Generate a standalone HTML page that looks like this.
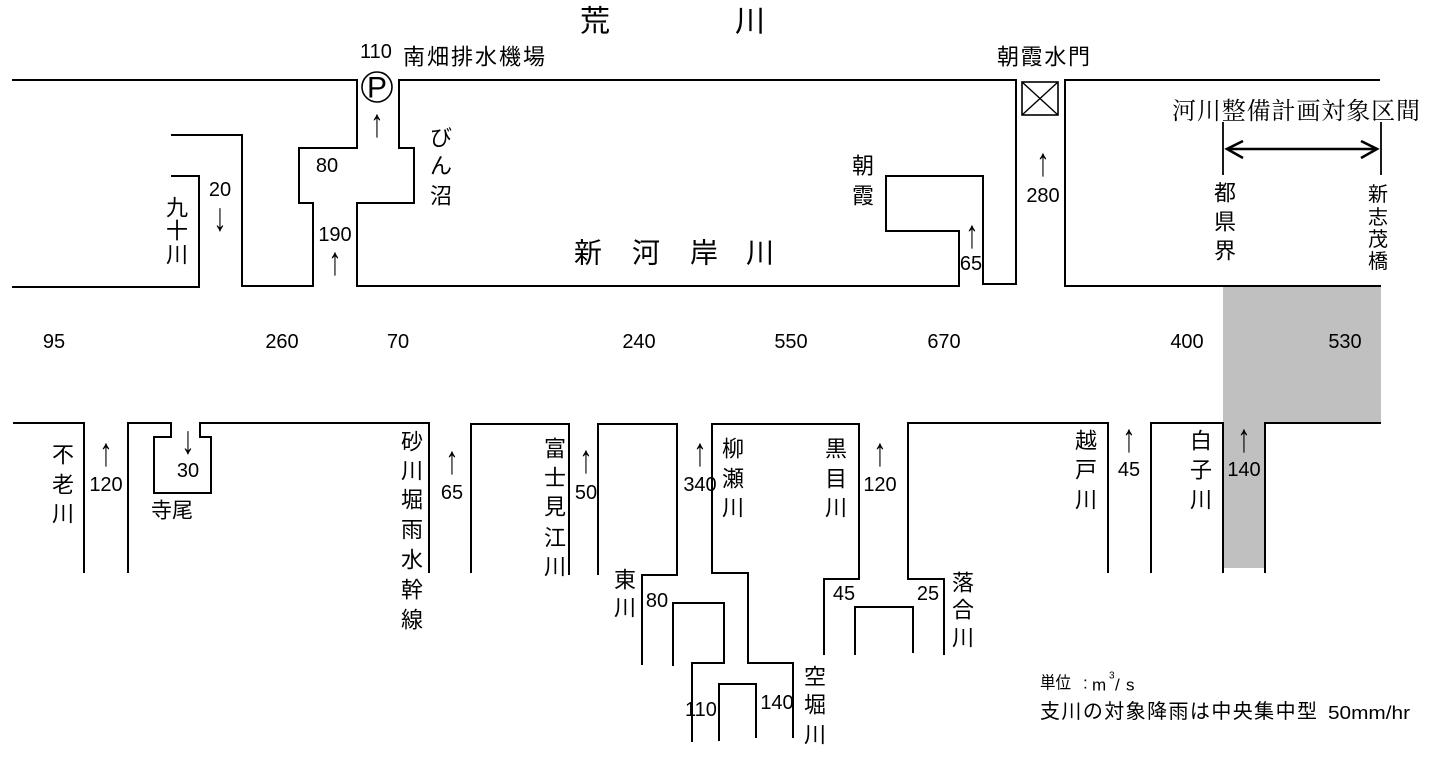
<!DOCTYPE html>
<html><head><meta charset="utf-8">
<style>
html,body{margin:0;padding:0;background:#fff;}
svg{display:block;}
text{font-family:"Liberation Sans","Noto Sans CJK JP",sans-serif;fill:#000;}
.n{font-size:20px;text-anchor:middle;dominant-baseline:central;}
.a{font-size:22px;text-anchor:middle;dominant-baseline:central;}
.j{font-size:22px;text-anchor:middle;dominant-baseline:central;}
.s{font-size:20px;text-anchor:middle;dominant-baseline:central;}
</style></head>
<body>
<svg width="1442" height="759" viewBox="0 0 1442 759" xmlns="http://www.w3.org/2000/svg">
<rect width="1442" height="759" fill="#fff"/>
<!-- gray section -->
<polygon points="1223,286 1381,286 1381,422 1265,422 1265,568 1223,568" fill="#c0c0c0"/>

<g fill="none" stroke="#000" stroke-width="2">
<!-- top -->
<polyline points="12,80 357,80 357,148 299,148 299,203 313,203 313,286 242,286 242,135 171,135"/>
<polyline points="171,176 199,176 199,287 12,287"/>
<polygon points="983,284 1016,284 1016,80 399,80 399,148 414,148 414,203 357,203 357,286 959,286 959,231 886,231 886,176 983,176"/>
<polyline points="1380,80 1065,80 1065,286 1381,286"/>
<circle cx="377" cy="87" r="15" stroke-width="1.6"/>
<rect x="1022" y="82" width="36" height="33" stroke-width="1.6"/>
<line x1="1022" y1="82" x2="1058" y2="115" stroke-width="1.4"/>
<line x1="1058" y1="82" x2="1022" y2="115" stroke-width="1.4"/>
<line x1="1223" y1="122" x2="1223" y2="175" stroke-width="1.8"/>
<line x1="1381" y1="122" x2="1381" y2="175" stroke-width="1.8"/>
<line x1="1227" y1="149" x2="1377" y2="149" stroke-width="2.6"/>
<polyline points="1243,141 1227,149 1243,158" stroke-width="2.6"/>
<polyline points="1361,141 1377,149 1361,158" stroke-width="2.6"/>
<!-- bottom -->
<polyline points="13,423 84,423 84,573"/>
<polyline points="128,573 128,423 171,423 171,437 154,437 154,493 211,493 211,437 200,437 200,423 429,423 429,573"/>
<polyline points="471,573 471,424 569,424 569,575"/>
<polyline points="598,575 598,424 677,424 677,575 642,575 642,665"/>
<polyline points="673,666 673,603 724,603 724,663 692,663 692,742"/>
<polyline points="719,741 719,684 756,684 756,738"/>
<polyline points="793,738 793,663 748,663 748,573 712,573 712,424 859,424 859,579 824,579 824,655"/>
<polyline points="855,655 855,607 913,607 913,653"/>
<polyline points="944,655 944,579 908,579 908,423 1108,423 1108,573"/>
<polyline points="1151,573 1151,423 1223,423 1223,573"/>
<polyline points="1265,573 1265,423 1381,423"/>
</g>

<!-- titles -->
<text x="595" y="22" style="font-size:30px;text-anchor:middle;dominant-baseline:central">荒</text>
<text x="750" y="22" style="font-size:30px;text-anchor:middle;dominant-baseline:central">川</text>
<text x="588" y="253" style="font-size:28px;text-anchor:middle;dominant-baseline:central">新</text>
<text x="646" y="253" style="font-size:28px;text-anchor:middle;dominant-baseline:central">河</text>
<text x="704" y="253" style="font-size:28px;text-anchor:middle;dominant-baseline:central">岸</text>
<text x="760" y="253" style="font-size:28px;text-anchor:middle;dominant-baseline:central">川</text>

<text x="403" y="57" textLength="142" lengthAdjust="spacing" style="font-size:22px;dominant-baseline:central">南畑排水機場</text>
<text x="997" y="57" textLength="93" lengthAdjust="spacing" style="font-size:22px;dominant-baseline:central">朝霞水門</text>
<text x="1172" y="112" textLength="248" lengthAdjust="spacing" style="font-size:24px;dominant-baseline:central;font-family:'Liberation Serif','Noto Serif CJK SC',serif">河川整備計画対象区間</text>
<text x="377" y="88" style="font-size:30px;text-anchor:middle;dominant-baseline:central;font-weight:normal">P</text>

<!-- numbers top -->
<text class="n" x="376" y="52">110</text>
<text class="a" transform="translate(377 124) scale(1.2 1.8)">↑</text>
<text class="n" x="327" y="166">80</text>
<text class="n" x="220" y="190">20</text>
<text class="a" transform="translate(220 218) scale(1.2 1.8)">↓</text>
<text class="n" x="335" y="235">190</text>
<text class="a" transform="translate(335 262) scale(1.2 1.8)">↑</text>
<text class="a" transform="translate(972 235) scale(1.2 1.8)">↑</text>
<text class="n" x="971" y="264">65</text>
<text class="a" transform="translate(1043 163) scale(1.2 1.8)">↑</text>
<text class="n" x="1043" y="196">280</text>

<!-- middle numbers -->
<text class="n" x="54" y="342">95</text>
<text class="n" x="282" y="342">260</text>
<text class="n" x="398" y="342">70</text>
<text class="n" x="639" y="342">240</text>
<text class="n" x="791" y="342">550</text>
<text class="n" x="944" y="342">670</text>
<text class="n" x="1187" y="342">400</text>
<text class="n" x="1345" y="342">530</text>

<!-- bottom numbers -->
<text class="a" transform="translate(106 453) scale(1.2 1.8)">↑</text>
<text class="n" x="106" y="485">120</text>
<text class="a" transform="translate(188 441) scale(1.2 1.8)">↓</text>
<text class="n" x="188" y="471">30</text>
<text class="a" transform="translate(452 461) scale(1.2 1.8)">↑</text>
<text class="n" x="452" y="493">65</text>
<text class="a" transform="translate(586 460) scale(1.2 1.8)">↑</text>
<text class="n" x="586" y="493">50</text>
<text class="a" transform="translate(700 453) scale(1.2 1.8)">↑</text>
<text class="n" x="700" y="485">340</text>
<text class="a" transform="translate(880 453) scale(1.2 1.8)">↑</text>
<text class="n" x="880" y="485">120</text>
<text class="a" transform="translate(1129 439) scale(1.2 1.8)">↑</text>
<text class="n" x="1129" y="470">45</text>
<text class="a" transform="translate(1244 439) scale(1.2 1.8)">↑</text>
<text class="n" x="1244" y="470">140</text>
<text class="n" x="657" y="601">80</text>
<text class="n" x="701" y="710">110</text>
<text class="n" x="777" y="703">140</text>
<text class="n" x="844" y="594">45</text>
<text class="n" x="928" y="594">25</text>

<!-- vertical labels top -->
<text class="j" x="177" y="208">九</text><text class="j" x="177" y="231">十</text><text class="j" x="177" y="255">川</text>
<text class="j" x="441" y="138">び</text><text class="j" x="441" y="166">ん</text><text class="j" x="441" y="196">沼</text>
<text class="j" x="863" y="166">朝</text><text class="j" x="863" y="196">霞</text>
<text class="j" x="1225" y="193">都</text><text class="j" x="1225" y="222">県</text><text class="j" x="1225" y="251">界</text>
<text class="s" x="1378" y="195">新</text><text class="s" x="1378" y="218">志</text><text class="s" x="1378" y="240">茂</text><text class="s" x="1378" y="262">橋</text>

<!-- vertical labels bottom -->
<text class="j" x="63" y="455">不</text><text class="j" x="63" y="485">老</text><text class="j" x="63" y="514">川</text>
<text class="j" x="172" y="511" style="font-size:21px">寺尾</text>
<text class="j" x="412" y="442">砂</text><text class="j" x="412" y="471">川</text><text class="j" x="412" y="500">堀</text><text class="j" x="412" y="530">雨</text><text class="j" x="412" y="560">水</text><text class="j" x="412" y="590">幹</text><text class="j" x="412" y="620">線</text>
<text class="j" x="555" y="449">富</text><text class="j" x="555" y="478">士</text><text class="j" x="555" y="507">見</text><text class="j" x="555" y="538">江</text><text class="j" x="555" y="567">川</text>
<text class="j" x="733" y="449">柳</text><text class="j" x="733" y="479">瀬</text><text class="j" x="733" y="508">川</text>
<text class="j" x="836" y="449">黒</text><text class="j" x="836" y="479">目</text><text class="j" x="836" y="508">川</text>
<text class="j" x="625" y="580">東</text><text class="j" x="625" y="608">川</text>
<text class="j" x="815" y="677">空</text><text class="j" x="815" y="705">堀</text><text class="j" x="815" y="735">川</text>
<text class="j" x="963" y="583">落</text><text class="j" x="963" y="610">合</text><text class="j" x="963" y="638">川</text>
<text class="j" x="1086" y="441">越</text><text class="j" x="1086" y="470">戸</text><text class="j" x="1086" y="500">川</text>
<text class="j" x="1201" y="441">白</text><text class="j" x="1201" y="470">子</text><text class="j" x="1201" y="500">川</text>

<!-- note -->
<text x="1040" y="683" textLength="31" lengthAdjust="spacingAndGlyphs" style="font-size:17px;dominant-baseline:central">単位</text>
<text x="1083" y="683" style="font-size:17px;dominant-baseline:central">:</text>
<text x="1092" y="685" style="font-size:17px;dominant-baseline:central">m</text>
<text x="1109" y="676" style="font-size:10px;dominant-baseline:central">3</text>
<text x="1115" y="685" style="font-size:17px;dominant-baseline:central">/</text>
<text x="1126" y="685" style="font-size:17px;dominant-baseline:central">s</text>
<text x="1040" y="712" textLength="277" lengthAdjust="spacing" style="font-size:20px;dominant-baseline:central">支川の対象降雨は中央集中型</text>
<text x="1328" y="713" textLength="82" lengthAdjust="spacingAndGlyphs" style="font-size:18px;dominant-baseline:central">50mm/hr</text>
</svg>
</body></html>
